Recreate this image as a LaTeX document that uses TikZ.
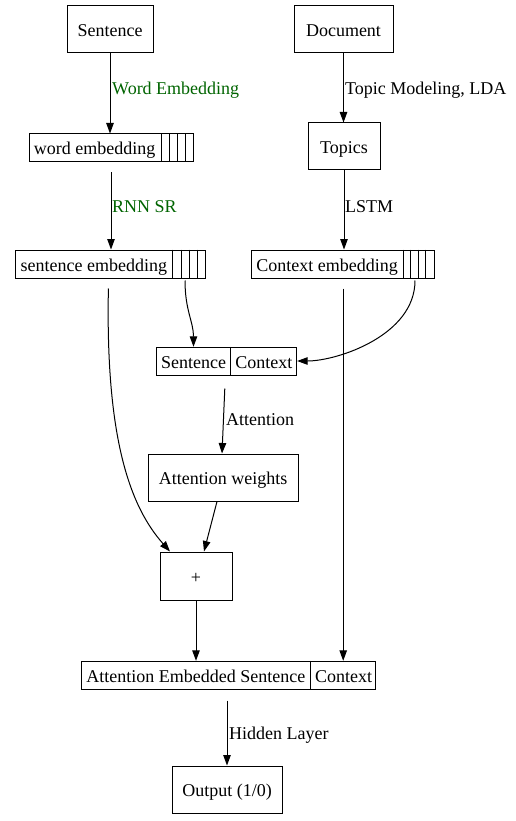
\documentclass[tikz,border=0pt]{standalone}
\usepackage{fontspec}
\setmainfont{Liberation Serif}
\usetikzlibrary{arrows.meta}
\definecolor{lblgreen}{RGB}{0,100,0}
\begin{document}
\begin{tikzpicture}[x=1pt,y=-1pt,
  every node/.style={font=\fontsize{18}{21}\selectfont, text height=17pt, text depth=3pt},
  box/.style={draw, line width=1pt, inner sep=0pt, minimum height=47pt},
  rec/.style={draw, line width=1pt, inner sep=0pt, minimum height=28pt},
  cell/.style={inner sep=0pt, minimum height=28pt},
  cellsep/.style={line width=1pt},
  lbl/.style={anchor=west, inner sep=1pt},
  arr/.style={line width=1pt, -{Triangle[length=10.5pt,width=7.5pt]}},
]
\useasboundingbox (0,0) rectangle (515,821);

% top row
\node[box, minimum width=86pt] (sent) at (110,29.5) {Sentence};
\node[box, minimum width=99pt] (doc) at (343.5,29.5) {Document};

% word embedding record
\node[rec, minimum width=164pt] (we) at (111,148) {};
\node[cell, anchor=west, minimum width=132pt] (wet) at (we.west) {word embedding};
\foreach \x in {161,169.3,177.3,185.3} \draw[cellsep] (\x,0 |- we.north) -- (\x,0 |- we.south);

\node[box, minimum width=72pt] (topics) at (344,146.5) {Topics};

% sentence embedding record
\node[rec, minimum width=189.3pt] (se) at (110.4,264) {};
\node[cell, anchor=west, minimum width=157pt] (set) at (se.west) {sentence embedding};
\foreach \x in {172.7,181.7,189.7,197.7} \draw[cellsep] (\x,0 |- se.north) -- (\x,0 |- se.south);

% context embedding record
\node[rec, minimum width=182.5pt] (ce) at (343.2,264) {};
\node[cell, anchor=west, minimum width=151pt] (cet) at (ce.west) {Context embedding};
\foreach \x in {403,410.5,418,425.7} \draw[cellsep] (\x,0 |- ce.north) -- (\x,0 |- ce.south);

% sentence | context record
\node[rec, minimum width=139.7pt] (sc) at (226.8,361) {};
\node[cell, anchor=west, minimum width=73.7pt] (sc1) at (sc.west) {Sentence};
\node[cell, anchor=east, minimum width=66pt] (sc2) at (sc.east) {Context};
\draw[cellsep] (sc1.north east) -- (sc1.south east);

\node[box, minimum width=150pt] (attw) at (223,477.5) {Attention weights};
\node[box, minimum width=72pt, minimum height=48pt] (plus) at (196,576) {+};

% attention embedded sentence | context record
\node[rec, minimum width=294pt] (aes) at (228.7,675) {};
\node[cell, anchor=west, minimum width=229pt] (aes1) at (aes.west) {Attention Embedded Sentence};
\node[cell, anchor=east, minimum width=65pt] (aes2) at (aes.east) {Context};
\draw[cellsep] (aes1.north east) -- (aes1.south east);

\node[box, minimum width=110pt] (out) at (227,789.5) {Output (1/0)};

% connectors
\draw[arr] (sent.south) -- (sent.south |- we.north);
\node[lbl, text=lblgreen] (l1) at (111,88) {Word Embedding};

\draw[arr] (doc.south) -- (doc.south |- topics.north);
\node[lbl] (l2) at (344,88) {Topic Modeling, LDA};

\draw[arr] ([yshift=-10pt]we.south) -- (we.south |- se.north);
\node[lbl, text=lblgreen] (l3) at (111,205) {RNN SR};

\draw[arr] (topics.south) -- (topics.south |- ce.north);
\node[lbl] (l4) at (344,205) {LSTM};

\draw[arr] ([xshift=74.6pt,yshift=-2pt]se.south) .. controls +(0,30) and +(0,-25) .. (sc1.north);
\draw[arr] ([xshift=-2pt,yshift=-10pt]se.south) .. controls +(-3,150) and +(-40,-45) .. ([xshift=-26pt]plus.north);
\draw[arr] ([xshift=71.8pt,yshift=-2pt]ce.south) .. controls +(0,55) and +(40,0) .. (sc.east);
\draw[arr] ([yshift=-10pt]ce.south) -- (ce.south |- aes2.north);

\draw[arr] ([xshift=-2pt,yshift=-13pt]sc.south) -- ([xshift=-1pt]attw.north);
\node[lbl] (l5) at (225,418) {Attention};

\draw[arr] ([xshift=-6pt]attw.south) -- ([xshift=8pt]plus.north);
\draw[arr] (plus.south) -- (plus.south |- aes1.north);

\draw[arr] ([xshift=-1.7pt,yshift=-11pt]aes.south) -- (out.north);
\node[lbl] (l6) at (228,732) {Hidden Layer};
\end{tikzpicture}
\end{document}
